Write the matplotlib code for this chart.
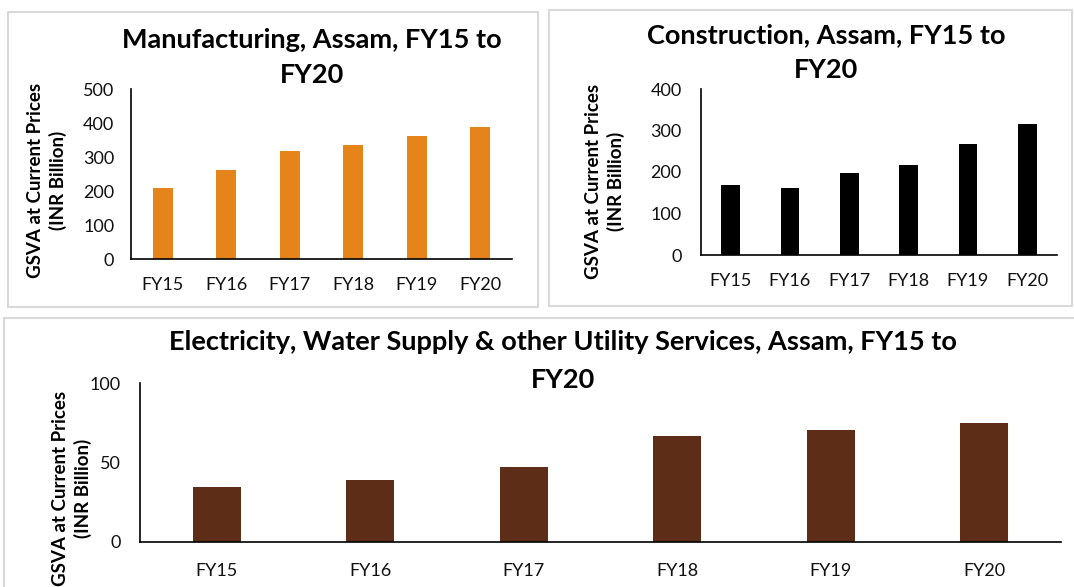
import matplotlib
matplotlib.use("Agg")
from matplotlib import pyplot as plt
from matplotlib.patches import Rectangle

# Data
years = ['FY15', 'FY16', 'FY17', 'FY18', 'FY19', 'FY20']
manufacturing = [208, 261, 317, 336, 362, 388]
construction = [169, 161, 197, 218, 268, 315]
electricity = [34.5, 39.2, 47.0, 66.4, 70.6, 74.7]

W, H = 1074, 587
plt.rcParams['font.family'] = ['Lato', 'DejaVu Sans']

fig = plt.figure(figsize=(W / 100, H / 100), dpi=100)


def px_axes(left, right, top, bottom):
    return fig.add_axes([left / W, (H - bottom) / H, (right - left) / W, (bottom - top) / H])


def panel(x0, y0, x1, y1):
    fig.patches.append(Rectangle((x0 / W, (H - y1) / H), (x1 - x0) / W, (y1 - y0) / H,
                                 transform=fig.transFigure, fill=False,
                                 edgecolor='#d9d9d9', linewidth=1.5))


def draw(ax, values, color, ymax, step, xpad, ypad, fs):
    ax.bar(range(len(years)), values, width=0.31, color=color)
    ax.set_xlim(-0.5, len(years) - 0.5)
    ax.set_ylim(0, ymax)
    ax.set_yticks(range(0, ymax + 1, step))
    ax.set_xticks(range(len(years)))
    ax.set_xticklabels(years)
    for s in ['top', 'right']:
        ax.spines[s].set_visible(False)
    ax.spines['left'].set_linewidth(1.2)
    ax.spines['bottom'].set_linewidth(1.2)
    ax.tick_params(axis='both', length=0, labelsize=fs, colors='#111111')
    ax.tick_params(axis='x', pad=xpad)
    ax.tick_params(axis='y', pad=ypad)


panel(8, 12, 538, 307)
panel(549, 10, 1072, 306)
panel(4, 318, 1080, 600)

ylab = 'GSVA at Current Prices\n(INR Billion)'
tfs = 19.5
yfs = 13.5

# Manufacturing
ax1 = px_axes(131, 512, 89, 259)
draw(ax1, manufacturing, '#e5841a', 500, 100, 13, 12, 13)
fig.text(312 / W, 1 - 40 / H, 'Manufacturing, Assam, FY15 to', ha='center', va='center',
         fontsize=tfs, fontweight='bold')
fig.text(312 / W, 1 - 75 / H, 'FY20', ha='center', va='center', fontsize=tfs, fontweight='bold')
fig.text(47 / W, 1 - 180 / H, ylab, rotation=90, ha='center', va='center',
         fontsize=yfs, fontweight='bold', linespacing=1.3)

# Construction
ax2 = px_axes(701, 1057, 89, 255)
draw(ax2, construction, '#000000', 400, 100, 13, 14, 13)
fig.text(826 / W, 1 - 35 / H, 'Construction, Assam, FY15 to', ha='center', va='center',
         fontsize=tfs, fontweight='bold')
fig.text(826 / W, 1 - 70 / H, 'FY20', ha='center', va='center', fontsize=tfs, fontweight='bold')
fig.text(605 / W, 1 - 181 / H, ylab, rotation=90, ha='center', va='center',
         fontsize=yfs, fontweight='bold', linespacing=1.3)

# Electricity
ax3 = px_axes(140, 1061, 383, 542)
draw(ax3, electricity, '#5e2d18', 100, 50, 15, 14, 13)
fig.text(563 / W, 1 - 342 / H, 'Electricity, Water Supply & other Utility Services, Assam, FY15 to',
         ha='center', va='center', fontsize=tfs, fontweight='bold')
fig.text(563 / W, 1 - 380 / H, 'FY20', ha='center', va='center', fontsize=tfs, fontweight='bold')
fig.text(72 / W, 1 - 488 / H, ylab, rotation=90, ha='center', va='center',
         fontsize=yfs, fontweight='bold', linespacing=1.3)

fig.savefig('out.png', dpi=100)
